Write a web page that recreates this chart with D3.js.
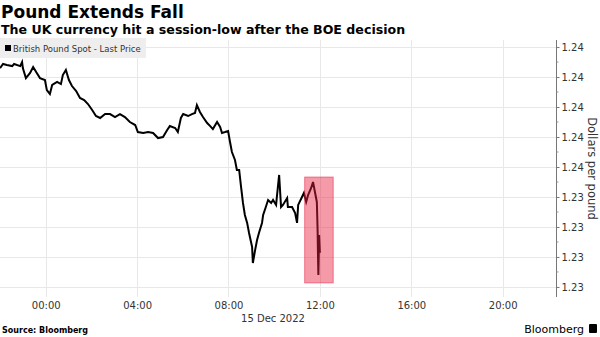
<!DOCTYPE html>
<html><head><meta charset="utf-8">
<script src="https://cdn.jsdelivr.net/npm/d3@7"></script>
<style>
html,body{margin:0;padding:0;background:#fff;}
svg{display:block;}
</style></head>
<body>
<svg id="chart" width="600" height="337"></svg>
<script>
const title = "Pound Extends Fall";
const subtitle = "The UK currency hit a session-low after the BOE decision";
const seriesName = "British Pound Spot - Last Price";
const times = [
"2022-12-14T22:00","2022-12-14T22:08","2022-12-14T22:18","2022-12-14T22:32","2022-12-14T22:37","2022-12-14T22:53","2022-12-14T22:58","2022-12-14T23:00",
"2022-12-14T23:08","2022-12-14T23:19","2022-12-14T23:27","2022-12-14T23:35","2022-12-14T23:45","2022-12-14T23:58",
"2022-12-15T00:03","2022-12-15T00:11","2022-12-15T00:17","2022-12-15T00:30","2022-12-15T00:40","2022-12-15T00:45","2022-12-15T00:53",
"2022-12-15T01:01","2022-12-15T01:09","2022-12-15T01:20","2022-12-15T01:30","2022-12-15T01:41","2022-12-15T01:51",
"2022-12-15T02:02","2022-12-15T02:12","2022-12-15T02:23","2022-12-15T02:36","2022-12-15T02:49",
"2022-12-15T03:02","2022-12-15T03:15","2022-12-15T03:28","2022-12-15T03:41","2022-12-15T03:55",
"2022-12-15T04:02","2022-12-15T04:16","2022-12-15T04:29","2022-12-15T04:42","2022-12-15T04:55",
"2022-12-15T05:08","2022-12-15T05:19","2022-12-15T05:26","2022-12-15T05:40","2022-12-15T05:47","2022-12-15T05:55",
"2022-12-15T06:01","2022-12-15T06:14","2022-12-15T06:24","2022-12-15T06:32","2022-12-15T06:37","2022-12-15T06:45","2022-12-15T06:53",
"2022-12-15T07:04","2022-12-15T07:12","2022-12-15T07:19","2022-12-15T07:30","2022-12-15T07:38","2022-12-15T07:43","2022-12-15T07:51","2022-12-15T07:59",
"2022-12-15T08:04","2022-12-15T08:09","2022-12-15T08:17","2022-12-15T08:22","2022-12-15T08:28","2022-12-15T08:33","2022-12-15T08:38","2022-12-15T08:43","2022-12-15T08:49","2022-12-15T08:54",
"2022-12-15T09:02","2022-12-15T09:04","2022-12-15T09:10","2022-12-15T09:15","2022-12-15T09:20","2022-12-15T09:28","2022-12-15T09:31","2022-12-15T09:38","2022-12-15T09:44","2022-12-15T09:52","2022-12-15T09:57",
"2022-12-15T10:05","2022-12-15T10:07","2022-12-15T10:13","2022-12-15T10:18","2022-12-15T10:23","2022-12-15T10:34","2022-12-15T10:36","2022-12-15T10:47","2022-12-15T10:55",
"2022-12-15T11:00","2022-12-15T11:03","2022-12-15T11:13","2022-12-15T11:18","2022-12-15T11:24","2022-12-15T11:29","2022-12-15T11:37","2022-12-15T11:42","2022-12-15T11:47","2022-12-15T11:52","2022-12-15T11:54","2022-12-15T11:55","2022-12-15T11:56","2022-12-15T11:58","2022-12-15T12:00"
];
const prices = [
1.2426,1.24287,1.2428,1.24273,1.24287,1.24273,1.2430,1.2426,
1.24193,1.24227,1.24267,1.24233,1.24193,1.2418,
1.24113,1.24087,1.24147,1.24167,1.24153,1.24213,1.24247,
1.2418,1.2414,1.24107,1.2406,1.24047,1.2402,
1.2398,1.2394,1.23927,1.23953,1.23953,
1.23933,1.23953,1.23933,1.239,1.2388,
1.23833,1.23827,1.23833,1.23827,1.23793,
1.238,1.23847,1.23873,1.2386,1.23833,1.23927,
1.23953,1.2394,1.23953,1.2396,1.24013,1.23967,1.23933,
1.23893,1.23873,1.23853,1.239,1.23867,1.23827,1.23833,1.2384,
1.23767,1.237,1.23647,1.2358,1.2358,1.23467,1.2336,1.2328,1.23227,1.2316,
1.23067,1.2296,1.23047,1.23113,1.2316,1.23227,1.2328,1.23333,1.2338,1.2336,1.2338,
1.23347,1.234,1.23547,1.23333,1.23347,1.23393,1.23333,1.23333,1.23293,
1.23227,1.23347,1.234,1.23427,1.23367,1.23413,1.2346,1.235,1.23433,1.23367,1.2318,1.23013,1.2288,1.23147,1.23027
];
const yTicks = [1.228,1.230,1.232,1.234,1.236,1.238,1.240,1.242,1.244];
const yMinorTicks = [1.229,1.231,1.233,1.235,1.237,1.239,1.241,1.243];
const xTicks = ["2022-12-15T00:00","2022-12-15T04:00","2022-12-15T08:00","2022-12-15T12:00","2022-12-15T16:00","2022-12-15T20:00"];
const xDomain = ["2022-12-14T22:00","2022-12-15T22:20"];
const yDomain = [1.22733,1.24447];
const highlight = {start:"2022-12-15T11:20", end:"2022-12-15T12:35", low:1.22827, high:1.23533};
const dateLabel = "15 Dec 2022";
const yLabel = "Dollars per pound";
const source = "Source: Bloomberg";

const parse = d3.timeParse("%Y-%m-%dT%H:%M");
const data = times.map((t,i)=>({t:parse(t), v:prices[i]}));

const svg = d3.select("#chart");
const plot = {left:0, right:556, top:40, bottom:297};

const x = d3.scaleTime().domain(xDomain.map(parse)).range([plot.left, plot.right]);
const y = d3.scaleLinear().domain(yDomain).range([plot.bottom, plot.top]);

const FONT = "DejaVu Sans, sans-serif";

// gridlines
svg.append("g").selectAll("line").data(yTicks).join("line")
  .attr("x1",plot.left).attr("x2",plot.right)
  .attr("y1",d=>Math.round(y(d))+0.5).attr("y2",d=>Math.round(y(d))+0.5)
  .attr("stroke","#e8e8e8").attr("stroke-width",1);
svg.append("g").selectAll("line").data(xTicks.map(parse)).join("line")
  .attr("x1",d=>Math.round(x(d))+0.5).attr("x2",d=>Math.round(x(d))+0.5)
  .attr("y1",plot.top).attr("y2",plot.bottom)
  .attr("stroke","#e8e8e8").attr("stroke-width",1);

// legend
const lg = svg.append("g");
lg.append("rect").attr("x",0).attr("y",38).attr("width",146).attr("height",20).attr("fill","#eeeeee");
lg.append("rect").attr("x",5).attr("y",45).attr("width",6).attr("height",6).attr("fill","#000");
lg.append("text").attr("x",13).attr("y",51.5).attr("font-family",FONT).attr("font-size",8.5)
  .attr("fill","#333").text(seriesName);

// line
const line = d3.line().x(d=>x(d.t)).y(d=>y(d.v)).curve(d3.curveLinear);
svg.append("path").datum(data).attr("d",line)
  .attr("fill","none").attr("stroke","#000").attr("stroke-width",2).attr("stroke-linejoin","miter");

// highlight rect
svg.append("rect")
  .attr("x",x(parse(highlight.start))).attr("width",x(parse(highlight.end))-x(parse(highlight.start)))
  .attr("y",y(highlight.high)).attr("height",y(highlight.low)-y(highlight.high))
  .attr("fill","rgb(232,30,64)").attr("fill-opacity",0.45)
  .attr("stroke","rgb(232,30,64)").attr("stroke-opacity",0.5).attr("stroke-width",1);

// y axis
const yAxis = d3.axisRight(y).tickValues(yTicks).tickSize(3).tickPadding(2).tickFormat(d3.format(".2f"));
const ya = svg.append("g").attr("transform",`translate(${plot.right+0.5},0)`).call(yAxis);
ya.select(".domain").attr("stroke","#777").attr("d",`M0,${plot.top}V${plot.bottom}`);
ya.selectAll(".tick line").attr("stroke","#777");
ya.selectAll(".tick text").attr("font-family",FONT).attr("font-size",10).attr("fill","#333");
ya.append("g").selectAll("line").data(yMinorTicks).join("line")
  .attr("x1",0).attr("x2",2).attr("y1",d=>y(d)).attr("y2",d=>y(d)).attr("stroke","#999");

svg.append("text").attr("transform",`translate(588,${(plot.top+plot.bottom)/2}) rotate(90)`)
  .attr("text-anchor","middle").attr("font-family",FONT).attr("font-size",11.5).attr("fill","#333").text(yLabel);

// x axis labels
const xAxis = d3.axisBottom(x).tickValues(xTicks.map(parse)).tickSize(0).tickPadding(5).tickFormat(d3.timeFormat("%H:%M"));
const xa = svg.append("g").attr("transform",`translate(0,${plot.bottom})`).call(xAxis);
xa.select(".domain").remove();
xa.selectAll(".tick text").attr("font-family",FONT).attr("font-size",10).attr("fill","#333");
svg.append("text").attr("x",273).attr("y",322).attr("text-anchor","middle").attr("font-family",FONT)
  .attr("font-size",10).attr("fill","#333").text(dateLabel);

// titles
svg.append("text").attr("x",1).attr("y",18).attr("font-family",FONT).attr("font-weight","bold")
  .attr("font-size",17).attr("fill","#000").text(title);
svg.append("text").attr("x",1).attr("y",34).attr("font-family",FONT).attr("font-weight","bold")
  .attr("font-size",12.6).attr("fill","#000").text(subtitle);

// footer
svg.append("text").attr("x",2).attr("y",333).attr("font-family",FONT).attr("font-weight","bold")
  .attr("font-size",8).attr("fill","#000").text(source);
svg.append("text").attr("x",584).attr("y",333).attr("text-anchor","end").attr("font-family",FONT)
  .attr("font-size",11).attr("fill","#000").text("Bloomberg");
svg.append("rect").attr("x",589).attr("y",324).attr("width",8).attr("height",9).attr("rx",1).attr("fill","#000");
</script>
</body></html>
